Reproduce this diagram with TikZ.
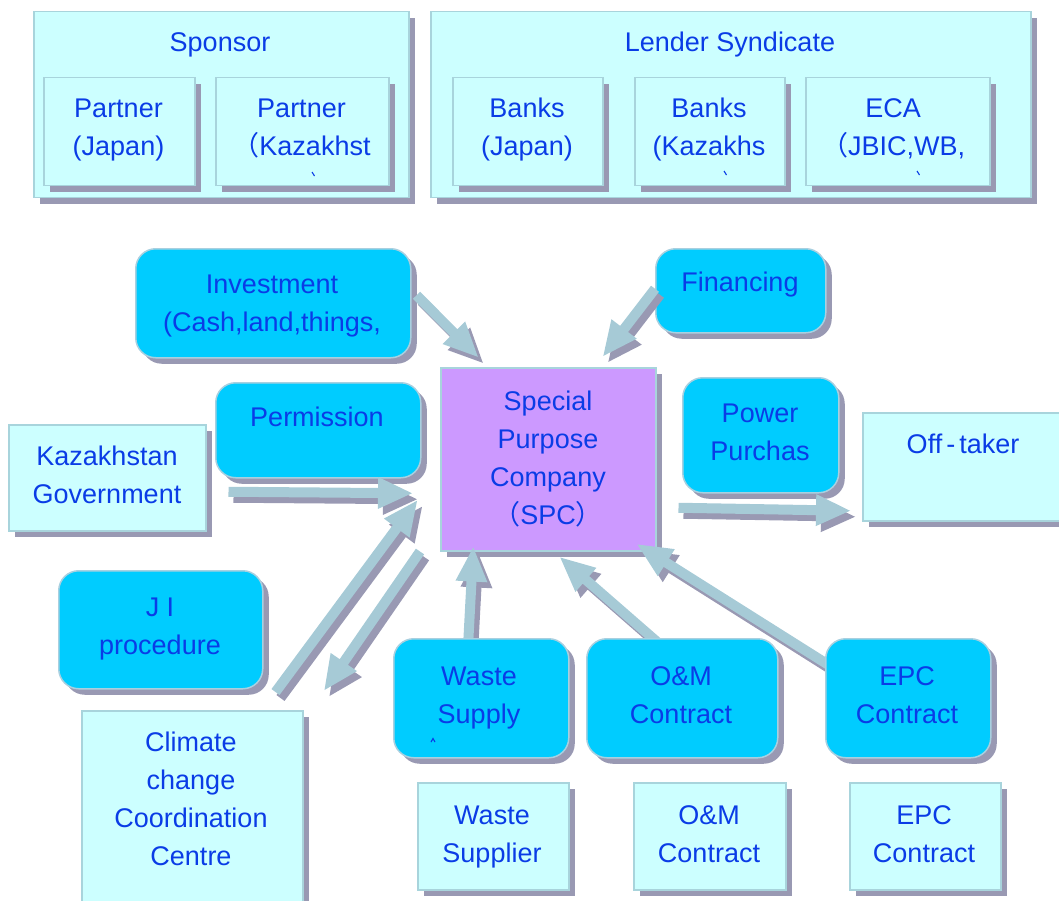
\documentclass[tikz,border=0pt]{standalone}
\usepackage{fontspec}
\setmainfont{Liberation Sans}
\newfontfamily\cjkfont{Noto Sans CJK JP}
\usetikzlibrary{calc,shadows}

\definecolor{paleBox}{HTML}{CCFFFF}
\definecolor{paleEdge}{HTML}{A8D4DC}
\definecolor{castGrey}{HTML}{9999B3}
\definecolor{skyBox}{HTML}{00CCFF}
\definecolor{skyEdge}{HTML}{A8D0E0}
\definecolor{lilac}{HTML}{CC99FF}
\definecolor{ink}{HTML}{0A3CE6}
\definecolor{flow}{HTML}{A6CAD6}

\pgfdeclarelayer{front}
\pgfsetlayers{main,front}

% stacked centred lines, baseline on the first line
\newcommand\boxlines[1]{\begin{tabular}[t]{@{}c@{}}#1\end{tabular}}
% full-width brackets
\newcommand\fw[1]{{\cjkfont #1}}

% thick block arrow with a drop shadow, from #1 to the tip #2
\newcommand\flowarrow[2]{%
  \foreach \sx/\sy/\col in {5/-6/castGrey,0/0/flow}{%
    \fill[fill=\col] let \p1=(#1), \p2=(#2),
      \n1={atan2(\y2-\y1,\x2-\x1)}, \n2={veclen(\x2-\x1,\y2-\y1)} in
      [xshift=\sx pt, yshift=\sy pt, shift={(\p1)}, rotate=\n1]
      (0,5) -- (\n2-34,5) -- (\n2-34,16) -- (\n2,0) -- (\n2-34,-16)
      -- (\n2-34,-5) -- (0,-5) -- cycle;
  }}

\tikzset{
  base box/.style={anchor=north west, inner sep=0pt, line width=1.5pt,
    drop shadow={opacity=1, fill=castGrey, shadow xshift=6pt, shadow yshift=-6pt}},
  pale box/.style={base box, draw=paleEdge, fill=paleBox},
  sky box/.style={base box, draw=skyEdge, fill=skyBox, rounded corners=20pt},
  spc box/.style={base box, draw=paleEdge, fill=lilac},
  txt/.style={anchor=base, inner sep=0pt, text=ink,
    font=\fontsize{27}{38}\selectfont},
  glyphbit/.style={draw=ink, line width=1.1pt},
}

\begin{document}
\begin{tikzpicture}[x=1pt, y=-1pt]
\useasboundingbox (0,0) rectangle (1059,901);
\clip (0,0) rectangle (1059,901);

% sponsor group
\node[pale box, minimum width=375pt, minimum height=186pt] (sponsor) at (33,11) {};
\node[txt] (sponsor-t) at (220,52) {Sponsor};
\node[pale box, minimum width=151pt, minimum height=108pt] (pjp) at (43,77) {};
\node[txt] (pjp-t) at (118.5,118) {\boxlines{Partner\\(Japan)}};
\node[pale box, minimum width=173pt, minimum height=108pt] (pkz) at (215,77) {};
\node[txt] (pkz-t) at (301.5,118) {\boxlines{Partner\\\fw{（}Kazakhst}};
\draw[glyphbit] (312,172) -- (314.5,176);

% lender group
\node[pale box, minimum width=600pt, minimum height=186pt] (lender) at (430,11) {};
\node[txt] (lender-t) at (730,52) {Lender Syndicate};
\node[pale box, minimum width=150pt, minimum height=108pt] (bjp) at (452,77) {};
\node[txt] (bjp-t) at (527,118) {\boxlines{Banks\\(Japan)}};
\node[pale box, minimum width=150pt, minimum height=108pt] (bkz) at (634,77) {};
\node[txt] (bkz-t) at (709,118) {\boxlines{Banks\\(Kazakhs}};
\draw[glyphbit] (724,171) -- (726.5,175);
\node[pale box, minimum width=184pt, minimum height=108pt] (eca) at (805,77) {};
\node[txt] (eca-t) at (893,118) {\boxlines{ECA\\\fw{（}JBIC,WB,}};
\draw[glyphbit] (917,171) -- (919.5,175);

% middle row
\node[sky box, minimum width=275pt, minimum height=109pt] (inv) at (135,248) {};
\node[txt] (inv-t) at (272,293) {\boxlines{Investment\\(Cash,land,things,}};
\node[sky box, minimum width=170pt, minimum height=84pt] (fin) at (655,248) {};
\node[txt] (fin-t) at (740,291) {Financing};
\node[sky box, minimum width=205pt, minimum height=95pt] (perm) at (215,382) {};
\node[txt] (perm-t) at (317,426) {Permission};
\node[pale box, minimum width=197pt, minimum height=106pt] (gov) at (8,424) {};
\node[txt] (gov-t) at (107,465) {\boxlines{Kazakhstan\\Government}};
\node[spc box, minimum width=215pt, minimum height=183pt] (spc) at (440,367) {};
\node[txt] (spc-t) at (548,410) {\boxlines{Special\\Purpose\\Company\\\fw{（}SPC\fw{）}}};
\node[sky box, minimum width=156pt, minimum height=115pt] (pp) at (682,377) {};
\node[txt] (pp-t) at (760,422) {\boxlines{Power\\Purchas}};
\node[pale box, minimum width=240pt, minimum height=108pt] (off) at (862,412) {};
\node[txt] (off-t) at (963,453) {Off\hspace{4pt}-\hspace{4pt}taker};

% lower left
\node[sky box, minimum width=204pt, minimum height=118pt] (ji) at (58,570) {};
\node[txt] (ji-t) at (160,616) {\boxlines{J I\\procedure}};
\node[pale box, minimum width=221pt, minimum height=240pt] (ccc) at (81,710) {};
\node[txt] (ccc-t) at (191,751) {\boxlines{Climate\\change\\Coordination\\Centre}};

% bottom parties
\node[pale box, minimum width=151pt, minimum height=107pt] (wsr) at (417,782) {};
\node[txt] (wsr-t) at (492,824) {\boxlines{Waste\\Supplier}};
\node[pale box, minimum width=152pt, minimum height=107pt] (oml) at (633,782) {};
\node[txt] (oml-t) at (709,824) {\boxlines{O\&M\\Contract}};
\node[pale box, minimum width=151pt, minimum height=107pt] (epcl) at (849,782) {};
\node[txt] (epcl-t) at (924,824) {\boxlines{EPC\\Contract}};

% contract boxes, kept above the arrows that leave them
\begin{pgfonlayer}{front}
\node[sky box, minimum width=175pt, minimum height=119pt] (wsup) at (393,638) {};
\node[txt] (wsup-t) at (479,685) {\boxlines{Waste\\Supply}};
\draw[glyphbit] (431,742) -- (433,738.5) -- (435,742);
\node[sky box, minimum width=191pt, minimum height=119pt] (omc) at (586,638) {};
\node[txt] (omc-t) at (681,685) {\boxlines{O\&M\\Contract}};
\node[sky box, minimum width=165pt, minimum height=119pt] (epcc) at (825,638) {};
\node[txt] (epcc-t) at (907,685) {\boxlines{EPC\\Contract}};
\end{pgfonlayer}

% flows into and out of the SPC
\flowarrow{$(inv.east)+(5,-8)$}{$(spc.north west)+(38,-10)$}
\flowarrow{$(fin.west)+(0,-2)$}{$(spc.north)+(55,-11)$}
\flowarrow{$(gov.east)+(22,14)$}{$(spc.west)+(-28,34)$}
\flowarrow{$(ccc.north east)+(-28,-18)$}{$(spc.west)+(-23,41.5)$}
\flowarrow{$(spc.south west)+(-20,0)$}{$(ccc.north east)+(21,-20)$}
\flowarrow{$(spc.east)+(22,48.5)$}{$(off.west)+(-12,44)$}
\flowarrow{$(wsup.north)+(-13,4)$}{$(spc.south)+(-75,-4)$}
\flowarrow{$(omc.north)+(-25,4)$}{$(spc.south)+(12,6)$}
\flowarrow{$(epcc.west)+(4,-33)$}{$(spc.south east)+(-19,-7)$}
\end{tikzpicture}
\end{document}
